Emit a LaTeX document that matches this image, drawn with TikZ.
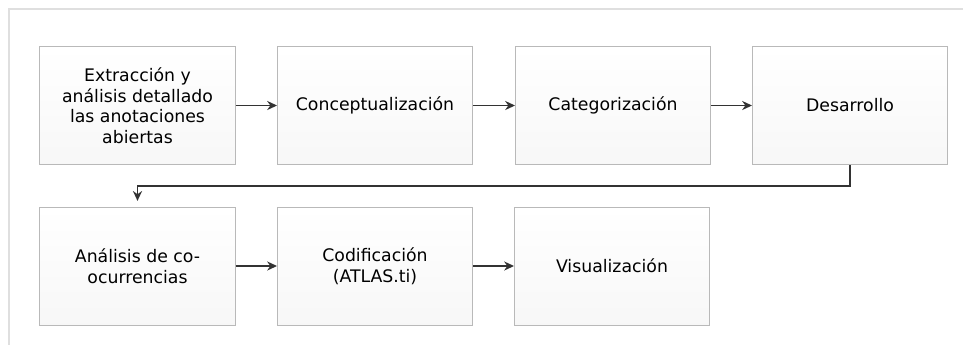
\documentclass[tikz,border=0pt]{standalone}
\usepackage{fontspec}
\setmainfont{DejaVu Sans}
\usetikzlibrary{arrows.meta}
\begin{document}
\begin{tikzpicture}[x=0.025cm, y=-0.025cm,
    paso/.style={rectangle, draw=gray!55, line width=0.7pt, top color=white, bottom color=gray!6,
        minimum width=4.875cm, minimum height=2.95cm, align=center, text=black,
        font=\fontsize{12.3}{14.6}\selectfont},
    flecha/.style={draw=black!80, line width=1pt, -{Stealth[length=7pt,width=6.5pt]}}]
    \useasboundingbox (0,0) rectangle (963,345);
    % marco
    \draw[gray!25, line width=1.4pt] (963,9) -- (9,9) -- (9,345);

    \node[paso] (p1) at (137.5,105.5) {Extracción y\\análisis detallado\\las anotaciones\\abiertas};
    \node[paso] (p2) at (375,105.5) {Conceptualización};
    \node[paso] (p3) at (613,105.5) {Categorización};
    \node[paso] (p4) at (850,105.5) {Desarrollo};

    \node[paso] (p5) at (137.5,266) {Análisis de co-\\ocurrencias};
    \node[paso] (p6) at (375,266) {Codificación\\(ATLAS.ti)};
    \node[paso] (p7) at (612,266) {Visualización};

    \draw[flecha] (p1) -- (p2);
    \draw[flecha] (p2) -- (p3);
    \draw[flecha] (p3) -- (p4);
    \draw[flecha, shorten >=4pt] (p4.south) -- ++(0,21) -| (p5.north);
    \draw[flecha] (p5) -- (p6);
    \draw[flecha] (p6) -- (p7);
\end{tikzpicture}
\end{document}
